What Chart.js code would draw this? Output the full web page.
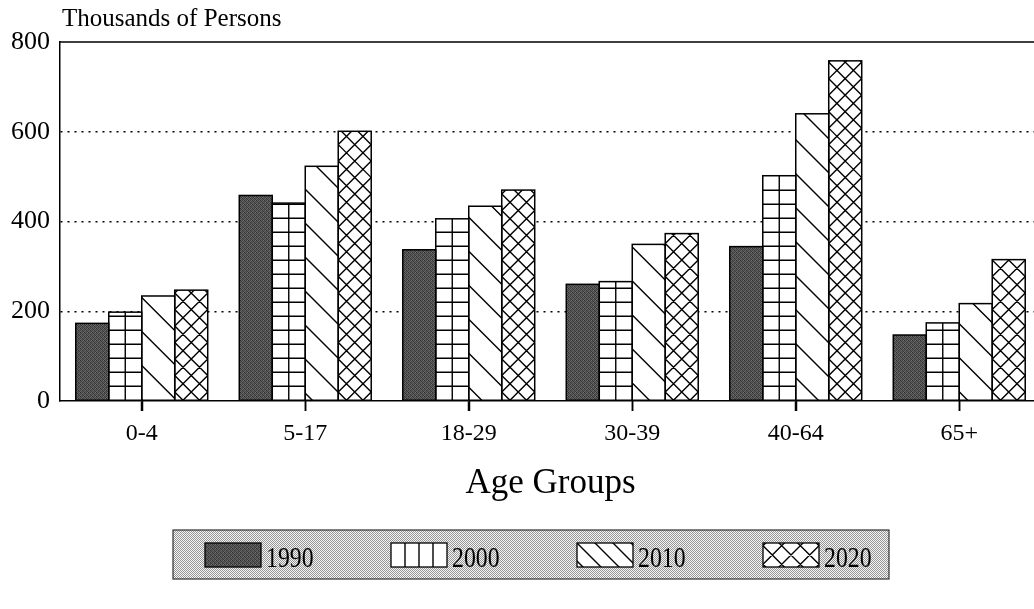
<!DOCTYPE html>
<html>
<head>
<meta charset="utf-8">
<script src="https://cdn.jsdelivr.net/npm/chart.js@4"></script>
<style>
  html, body { margin: 0; padding: 0; background: #fff; overflow: hidden; }
  canvas { display: block; }
</style>
</head>
<body>
<canvas id="chart" width="1060" height="609"></canvas>
<script>
const ageGroups = ["0-4", "5-17", "18-29", "30-39", "40-64", "65+"];
const years = ["1990", "2000", "2010", "2020"];
const pop1990 = [173, 458, 337, 260, 344, 147];
const pop2000 = [198, 441, 406, 266, 502, 174];
const pop2010 = [234, 523, 434, 349, 640, 217];
const pop2020 = [247, 601, 470, 373, 758, 315];
const yTicks = [0, 200, 400, 600, 800];
const yLabel = "Thousands of Persons";
const xLabel = "Age Groups";

const serif = "'Liberation Serif', 'Times New Roman', serif";
const fills = ["stipple", "grid", "diag", "cross"];

// small fixed textures
function makePattern(size, shades) {
  const c = document.createElement("canvas");
  c.width = size; c.height = size;
  const g = c.getContext("2d");
  shades.forEach((s, i) => {
    g.fillStyle = `rgb(${s},${s},${s})`;
    g.fillRect(i % size, Math.floor(i / size), 1, 1);
  });
  return g.createPattern(c, "repeat");
}
const darkStipple = makePattern(4, [48, 96, 64, 112, 88, 56, 104, 72, 68, 108, 52, 92, 100, 76, 84, 60]);
const lightStipple = makePattern(2, [150, 245, 245, 150]);

// hatch lines inside a rectangle; base is the anchor line (bar bottom)
function hatch(c, kind, x, y, w, h, base, legend) {
  if (kind === "stipple" || h <= 0) return;
  c.save();
  c.beginPath();
  c.rect(x, y, w, h);
  c.clip();
  c.strokeStyle = "#000";
  c.lineWidth = 1.4;
  c.beginPath();
  if (kind === "grid") {
    const cols = Math.max(1, Math.round(w / 15));
    for (let i = 1; i < cols; i++) {
      const xx = x + i * w / cols;
      c.moveTo(xx, y); c.lineTo(xx, y + h);
    }
    const step = legend ? h / 2 : 14;
    for (let yy = base - step; yy > y + 1; yy -= step) {
      c.moveTo(x, yy); c.lineTo(x + w, yy);
    }
  } else if (kind === "diag") {
    const P = legend ? 18 : 34;
    const L = w + h + P;
    for (let s = -L; s < L; s += P) {
      c.moveTo(x + s + 2 - L, base - L); c.lineTo(x + s + 2 + L, base + L);
    }
  } else if (kind === "cross") {
    const n = Math.max(1, Math.round(w / 16.5));
    const P = w / n;
    const xc = x + P / 2;
    const L = w + h + P;
    const kmax = Math.ceil((h + 2 * w) / P) + 2;
    for (let k = -kmax; k <= kmax; k++) {
      const yy = base + k * P;
      c.moveTo(xc - L, yy - L); c.lineTo(xc + L, yy + L);
      c.moveTo(xc - L, yy + L); c.lineTo(xc + L, yy - L);
    }
  }
  c.stroke();
  c.restore();
}

const decorPlugin = {
  id: "decor",
  afterDatasetsDraw(chart) {
    const c = chart.ctx;
    chart.data.datasets.forEach((ds, i) => {
      const meta = chart.getDatasetMeta(i);
      meta.data.forEach(bar => {
        const p = bar.getProps(["x", "y", "base", "width"], true);
        const left = p.x - p.width / 2;
        const top = Math.min(p.y, p.base);
        const h = Math.abs(p.base - p.y);
        hatch(c, fills[i], left, top, p.width, h, p.base, false);
        c.save();
        c.strokeStyle = "#000";
        c.lineWidth = 1.5;
        c.strokeRect(left, top, p.width, h);
        c.restore();
      });
    });
  },
  afterDraw(chart) {
    const c = chart.ctx;
    const a = chart.chartArea;
    const xs = chart.scales.x;
    c.save();
    c.strokeStyle = "#000";
    c.lineWidth = 1.5;
    c.beginPath();
    // solid top line at 800
    c.moveTo(a.left, a.top);
    c.lineTo(a.right, a.top);
    // category tick marks below the axis
    ageGroups.forEach((g, i) => {
      const px = Math.round(xs.getPixelForTick(i)) + 0.5;
      c.moveTo(px, a.bottom);
      c.lineTo(px, a.bottom + 10);
    });
    c.stroke();

    // unit label
    c.fillStyle = "#000";
    c.font = `25px ${serif}`;
    c.textAlign = "left";
    c.textBaseline = "alphabetic";
    c.fillText(yLabel, a.left + 2, 26);

    // legend box
    const bx = 173, by = 530, bw = 716, bh = 49;
    c.fillStyle = lightStipple;
    c.fillRect(bx, by, bw, bh);
    c.strokeStyle = "#333";
    c.lineWidth = 1.2;
    c.strokeRect(bx, by, bw, bh);
    years.forEach((yr, i) => {
      const sx = bx + 32 + i * 186, sy = by + 13, sw = 56, sh = 24;
      c.fillStyle = fills[i] === "stipple" ? darkStipple : "#fff";
      c.fillRect(sx, sy, sw, sh);
      hatch(c, fills[i], sx, sy, sw, sh, sy + sh / 2, true);
      c.strokeStyle = "#000";
      c.lineWidth = 1.3;
      c.strokeRect(sx, sy, sw, sh);
      c.save();
      c.translate(sx + sw + 5, sy + sh);
      c.scale(0.82, 1);
      c.fillStyle = "#000";
      c.font = `29px ${serif}`;
      c.fillText(yr, 0, 0);
      c.restore();
    });
    c.restore();
  }
};

const series = [pop1990, pop2000, pop2010, pop2020];

new Chart(document.getElementById("chart"), {
  type: "bar",
  data: {
    labels: ageGroups,
    datasets: years.map((yr, i) => ({
      label: yr,
      data: series[i],
      backgroundColor: i === 0 ? darkStipple : "#fff",
      borderWidth: 0,
      barPercentage: 1,
      categoryPercentage: 0.807
    }))
  },
  options: {
    responsive: false,
    animation: false,
    layout: { padding: { top: 42, right: 19, bottom: 102, left: 0 } },
    plugins: {
      legend: { display: false },
      tooltip: { enabled: false }
    },
    scales: {
      x: {
        grid: { offset: false, drawOnChartArea: false, drawTicks: true, tickLength: 10, tickColor: "#000", tickWidth: 1.5 },
        border: { display: true, color: "#000", width: 1.5 },
        ticks: { color: "#000", font: { family: serif, size: 24 }, padding: 8, maxRotation: 0 },
        title: { display: true, text: xLabel, color: "#000", font: { family: serif, size: 35 }, padding: { top: 10, bottom: 2 } },
        afterFit: s => { s.height = 106; }
      },
      y: {
        min: 0,
        max: 800,
        afterBuildTicks: s => { s.ticks = yTicks.map(v => ({ value: v })); },
        grid: {
          drawTicks: false,
          lineWidth: 1.5,
          color: ctx => (ctx.tick && (ctx.tick.value === 0 || ctx.tick.value === 800)) ? "rgba(0,0,0,0)" : "#000"
        },
        border: { display: true, color: "#000", width: 1.5, dash: [2, 5] },
        ticks: { color: "#000", font: { family: serif, size: 26 }, padding: 10 },
        afterFit: s => { s.width = 60; }
      }
    }
  },
  plugins: [decorPlugin]
});
</script>
</body>
</html>
